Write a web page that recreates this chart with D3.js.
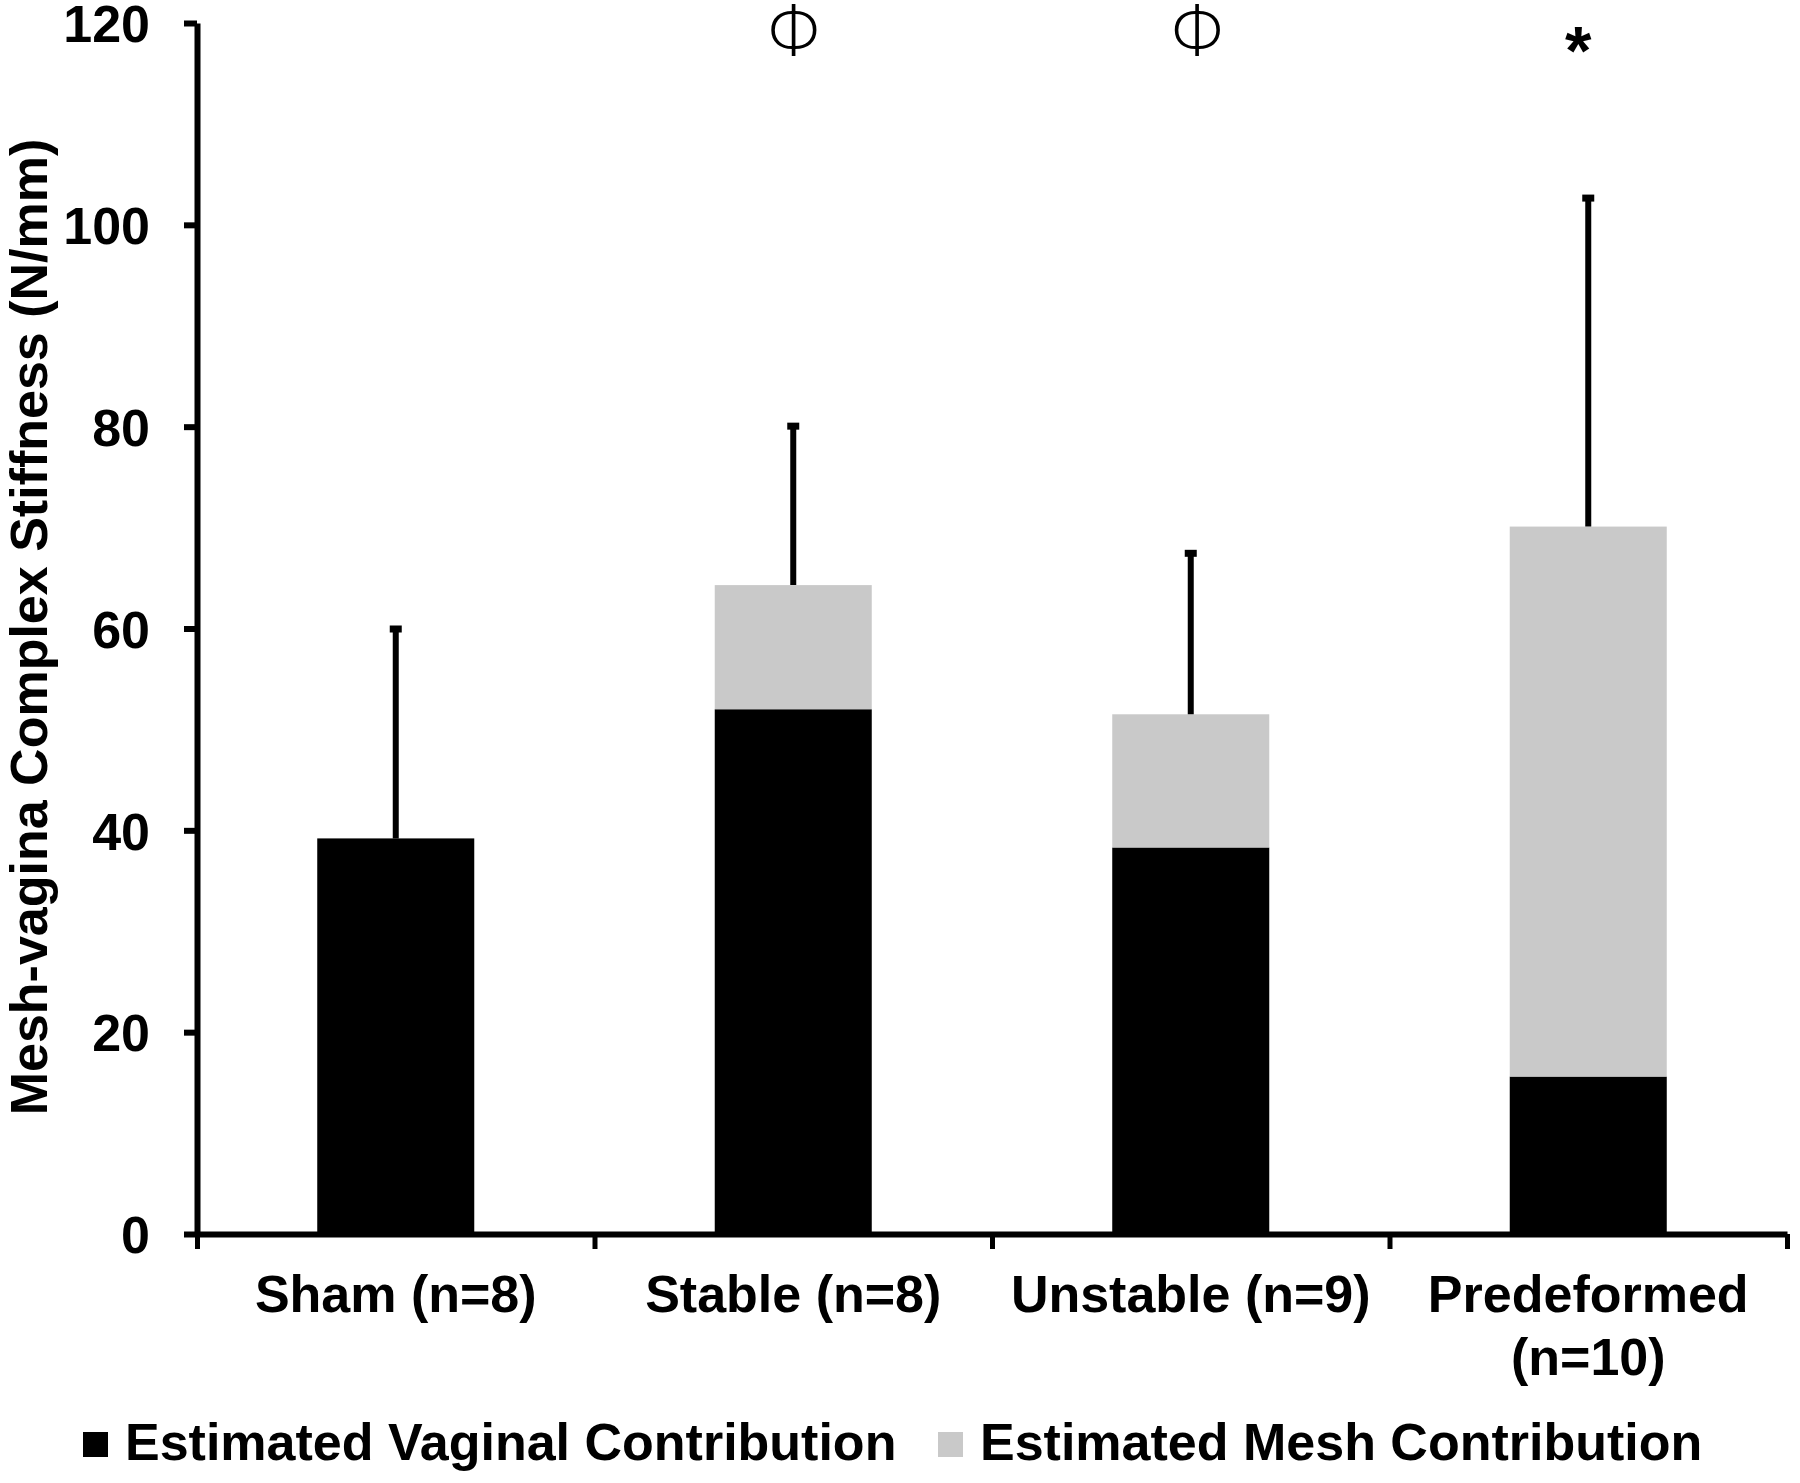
<!DOCTYPE html>
<html>
<head>
<meta charset="utf-8">
<script src="https://cdn.jsdelivr.net/npm/d3@7"></script>
<style>
  body { margin: 0; background: #fff; }
  text { font-family: "Liberation Sans", Arial, sans-serif; font-weight: bold; fill: #000; }
</style>
</head>
<body>
<svg id="chart"></svg>
<script>
// Data
const categories = ["Sham (n=8)", "Stable (n=8)", "Unstable (n=9)", "Predeformed (n=10)"];
const vaginal = [39.2, 52.0, 38.3, 15.6];
const mesh = [0, 12.3, 13.2, 54.5];
const errorTop = [60.0, 80.1, 67.5, 102.7];
const markers = ["", "Φ", "Φ", "*"];
const yTicks = [0, 20, 40, 60, 80, 100, 120];
const seriesNames = ["Estimated Vaginal Contribution", "Estimated Mesh Contribution"];
const seriesColors = ["#000000", "#c9c9c9"];

// Set up dimensions
const width = 1800, height = 1483;
const plotLeft = 197, plotRight = 1787, plotTop = 23, plotBottom = 1234;
// small horizontal nudges of the significance marks, as placed in the figure
const markerNudge = [0, 3, 9, -10];

const svg = d3.select("#chart")
    .attr("width", width)
    .attr("height", height);

// Scales
const x = d3.scaleBand()
    .domain(categories)
    .range([plotLeft, plotRight])
    .paddingInner(0.605)
    .paddingOuter(0.3025);

const y = d3.scaleLinear()
    .domain([0, 120])
    .range([plotBottom, plotTop]);

const color = d3.scaleOrdinal()
    .domain(seriesNames)
    .range(seriesColors);

// Stack the two contributions
const rows = categories.map((c, i) => ({ cat: c, v: vaginal[i], m: mesh[i] }));
const stack = d3.stack().keys(["v", "m"]);
const layers = stack(rows);

svg.selectAll(".layer")
    .data(layers)
    .enter()
    .append("g")
    .attr("class", "layer")
    .attr("fill", (d, i) => seriesColors[i])
    .selectAll("rect")
    .data(d => d)
    .enter()
    .append("rect")
    .attr("x", d => x(d.data.cat))
    .attr("y", d => y(d[1]))
    .attr("width", x.bandwidth())
    .attr("height", d => y(d[0]) - y(d[1]));

// Error bars (upper only)
const errs = svg.selectAll(".err")
    .data(categories)
    .enter()
    .append("g")
    .attr("class", "err");

errs.append("line")
    .attr("x1", d => x(d) + x.bandwidth() / 2)
    .attr("x2", d => x(d) + x.bandwidth() / 2)
    .attr("y1", (d, i) => y(vaginal[i] + mesh[i]))
    .attr("y2", (d, i) => y(errorTop[i]))
    .attr("stroke", "#000")
    .attr("stroke-width", 6);

errs.append("rect")
    .attr("x", d => x(d) + x.bandwidth() / 2 - 6)
    .attr("y", (d, i) => y(errorTop[i]) - 3)
    .attr("width", 12)
    .attr("height", 7)
    .attr("fill", "#000");

// Significance markers
const isStar = i => markers[i] === "*";
svg.selectAll(".marker")
    .data(categories)
    .enter()
    .append("text")
    .attr("class", "marker")
    .attr("x", (d, i) => x(d) + x.bandwidth() / 2 + markerNudge[i])
    .attr("y", (d, i) => isStar(i) ? 74 : 56)
    .attr("text-anchor", "middle")
    .style("font-family", (d, i) => isStar(i) ? null : "'DejaVu Sans', 'Liberation Sans', sans-serif")
    .style("font-weight", (d, i) => isStar(i) ? "bold" : "200")
    .style("font-size", (d, i) => isStar(i) ? "68px" : "72px")
    .text((d, i) => markers[i]);

// Y axis
const yAxis = svg.append("g")
    .attr("transform", `translate(${plotLeft},0)`)
    .call(d3.axisLeft(y).tickValues(yTicks).tickSize(13).tickSizeOuter(0).tickPadding(34));
yAxis.select(".domain").attr("stroke-width", 6);
yAxis.selectAll(".tick line").attr("stroke-width", 6);
yAxis.selectAll(".tick text").style("font-size", "52px").attr("dy", "0.36em");

// X axis: boundary ticks between categories
const xEdge = d3.scaleLinear().domain([0, categories.length]).range([plotLeft, plotRight]);
const xAxis = svg.append("g")
    .attr("transform", `translate(0,${plotBottom})`)
    .call(d3.axisBottom(xEdge).tickValues(d3.range(categories.length + 1)).tickSize(15).tickSizeOuter(0).tickFormat(""));
xAxis.select(".domain").attr("stroke-width", 6);
xAxis.selectAll(".tick line").attr("stroke-width", 5);

// Category labels (wrap Predeformed)
const labels = svg.selectAll(".xlab")
    .data(categories)
    .enter()
    .append("text")
    .attr("class", "xlab")
    .attr("text-anchor", "middle")
    .attr("y", 1312)
    .style("font-size", "52px");

labels.each(function(d) {
    const parts = d === "Predeformed (n=10)" ? ["Predeformed", "(n=10)"] : [d];
    const t = d3.select(this);
    parts.forEach((p, k) => {
        t.append("tspan")
            .attr("x", x(d) + x.bandwidth() / 2)
            .attr("dy", k === 0 ? 0 : 63)
            .text(p);
    });
});

// Y axis title
svg.append("text")
    .attr("transform", `translate(47,627) rotate(-90)`)
    .attr("text-anchor", "middle")
    .style("font-size", "52px")
    .text("Mesh-vagina Complex Stiffness (N/mm)");

// Legend
const legendX = [83, 938];
const legend = svg.selectAll(".legend")
    .data(seriesNames)
    .enter()
    .append("g")
    .attr("class", "legend")
    .attr("transform", (d, i) => `translate(${legendX[i]},1432)`);

legend.append("rect")
    .attr("width", 25)
    .attr("height", 25)
    .attr("fill", d => color(d));

legend.append("text")
    .attr("x", 42)
    .attr("y", 28)
    .style("font-size", "52px")
    .text(d => d);
</script>
</body>
</html>
